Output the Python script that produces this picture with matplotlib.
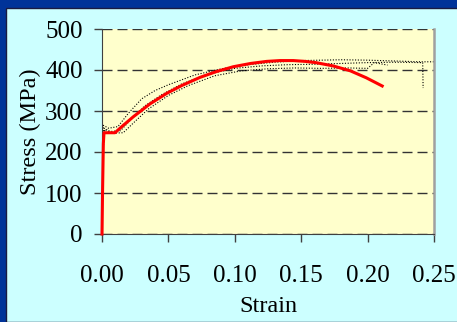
import numpy as np
import matplotlib
matplotlib.use("Agg")
import matplotlib.pyplot as plt
from matplotlib.patches import Rectangle

# model curve (red)
model_strain = [0.0, 0.0004, 0.0010, 0.0015, 0.0098, 0.016, 0.0236, 0.030, 0.036, 0.0487,
                0.060, 0.0738, 0.086, 0.0989, 0.112, 0.124, 0.134, 0.144, 0.153, 0.161,
                0.174, 0.187, 0.199, 0.211]
model_stress = [0, 100, 220, 247, 247, 265, 286, 302, 317, 343,
                362, 382, 396, 408, 416, 421, 423, 423, 421, 418,
                410, 398, 381, 361]

# test curves (dotted)
test1_strain = [0.0, 0.0008, 0.001, 0.005, 0.012, 0.02, 0.03, 0.04, 0.05, 0.07, 0.09,
                0.11, 0.13, 0.15, 0.18, 0.20, 0.22, 0.24, 0.25]
test1_stress = [0, 200, 265, 258, 262, 295, 330, 350, 364, 388, 403,
                413, 419, 423, 425, 424, 422, 420, 420]
test2_strain = [0.0, 0.0008, 0.0015, 0.006, 0.014, 0.022, 0.032, 0.045, 0.06, 0.08,
                0.10, 0.12, 0.14, 0.16, 0.18, 0.20, 0.22, 0.2415, 0.2418]
test2_stress = [0, 200, 258, 250, 252, 280, 312, 340, 366, 390,
                404, 410, 413, 414, 416, 418, 419, 418, 356]
test3_strain = [0.0, 0.0008, 0.002, 0.008, 0.016, 0.025, 0.035, 0.05, 0.065, 0.085,
                0.105, 0.125, 0.145, 0.165, 0.185, 0.20, 0.205, 0.215]
test3_stress = [0, 200, 255, 246, 247, 275, 305, 338, 362, 386,
                398, 403, 405, 404, 405, 404, 418, 412]

xticks = [0.00, 0.05, 0.10, 0.15, 0.20, 0.25]
yticks = [0, 100, 200, 300, 400, 500]

plt.rcParams['font.family'] = ['Liberation Serif', 'DejaVu Serif']

fig = plt.figure(figsize=(4.57, 3.22), dpi=100)
fig.patch.set_facecolor('#003399')
fig.patches.append(Rectangle((5.5 / 457, 0), 1, 1 - 7.5 / 322, transform=fig.transFigure,
                             facecolor='#CCFFFF', edgecolor='#1a1a40', lw=1, zorder=-5))

ax = fig.add_axes([102 / 457, 1 - 234 / 322, 332 / 457, 205 / 322])
ax.set_zorder(2)
ax.set_facecolor('#FFFFCC')

for s, t in [(test1_strain, test1_stress), (test2_strain, test2_stress),
             (test3_strain, test3_stress)]:
    ax.plot(s, t, color='black', lw=0.8, linestyle=(0, (1, 1.5)), zorder=2)
ax.plot(model_strain, model_stress, color='red', lw=2.2, zorder=3, clip_on=False)

ax.set_xlim(0, 0.25)
ax.set_ylim(0, 500)
ax.set_xticks(xticks)
ax.set_yticks(yticks)
ax.set_xticklabels(['%.2f' % v for v in xticks])
ax.yaxis.grid(True, color='#333333', lw=1, linestyle=(0, (7.2, 3.6)))
ax.set_axisbelow(True)

ax.spines['top'].set_visible(False)
ax.spines['right'].set_color('#a0a0a0')
ax.spines['right'].set_linewidth(1.8)
ax.spines['left'].set_color('#404040')
ax.spines['bottom'].set_color('#404040')
ax.tick_params(axis='both', direction='out', length=6, width=1, color='#404040',
               labelsize=18, labelcolor='black')
ax.tick_params(axis='x', pad=16)
ax.tick_params(axis='y', pad=8)

ax.set_xlabel('Strain', fontsize=17.5, labelpad=7)
ax.set_ylabel('Stress (MPa)', fontsize=17.5, labelpad=3)

fig.savefig('out.png', dpi=100, facecolor=fig.get_facecolor())
